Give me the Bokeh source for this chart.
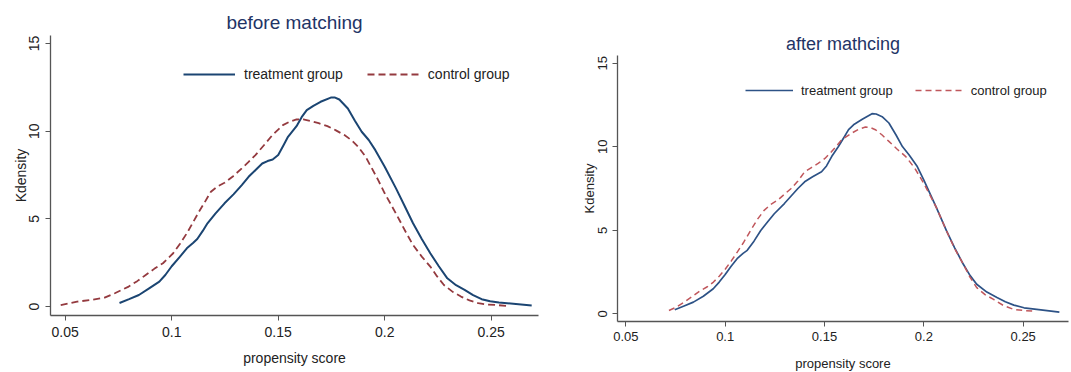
from bokeh.plotting import figure
from bokeh.layouts import row
from bokeh.models import FixedTicker, Legend, LegendItem, Range1d
from bokeh.embed import file_html
from bokeh.resources import INLINE

# ---------------- data ----------------
titles = ["before matching", "after mathcing"]
series_names = ["treatment group", "control group"]
x_label = "propensity score"
y_label = "Kdensity"
x_ticks = [0.05, 0.1, 0.15, 0.2, 0.25]
x_tick_labels = ["0.05", "0.1", "0.15", "0.2", "0.25"]
y_ticks = [0, 5, 10, 15]
y_tick_labels = ["0", "5", "10", "15"]

before_treat_x = [0.0755, 0.0800, 0.0846, 0.0894, 0.0942, 0.0970, 0.1000, 0.1039, 0.1071, 0.1100,
                  0.1120, 0.1145, 0.1168, 0.1205, 0.1248, 0.1290, 0.1329, 0.1361, 0.1395, 0.1425,
                  0.1450, 0.1474, 0.1500, 0.1525, 0.1546, 0.1586, 0.1610, 0.1634, 0.1665, 0.1699,
                  0.1747, 0.1767, 0.1787, 0.1827, 0.1860, 0.1892, 0.1925, 0.1956, 0.2000, 0.2053,
                  0.2093, 0.2133, 0.2174, 0.2214, 0.2254, 0.2294, 0.2335, 0.2375, 0.2415, 0.2455,
                  0.2495, 0.2536, 0.2616, 0.2690]
before_treat_y = [0.20, 0.42, 0.66, 1.04, 1.42, 1.80, 2.30, 2.85, 3.32, 3.62,
                  3.85, 4.30, 4.75, 5.30, 5.89, 6.40, 6.93, 7.40, 7.80, 8.16,
                  8.30, 8.39, 8.64, 9.20, 9.68, 10.29, 10.80, 11.20, 11.45, 11.68,
                  11.92, 11.92, 11.81, 11.30, 10.60, 9.97, 9.50, 8.92, 7.97, 6.74,
                  5.75, 4.75, 3.85, 3.04, 2.30, 1.61, 1.22, 0.95, 0.65, 0.42,
                  0.30, 0.23, 0.15, 0.06]

before_ctrl_x = [0.0479, 0.0556, 0.0621, 0.0685, 0.0733, 0.0798, 0.0838, 0.0878, 0.0918, 0.0959,
                 0.1007, 0.1040, 0.1071, 0.1100, 0.1128, 0.1155, 0.1184, 0.1215, 0.1248, 0.1290,
                 0.1329, 0.1361, 0.1393, 0.1433, 0.1473, 0.1522, 0.1555, 0.1586, 0.1618, 0.1650,
                 0.1690, 0.1731, 0.1771, 0.1811, 0.1845, 0.1876, 0.1910, 0.1940, 0.1970, 0.2000,
                 0.2035, 0.2069, 0.2101, 0.2133, 0.2174, 0.2214, 0.2246, 0.2278, 0.2318, 0.2358,
                 0.2398, 0.2439, 0.2479, 0.2519, 0.2584]
before_ctrl_y = [0.08, 0.28, 0.38, 0.51, 0.76, 1.14, 1.45, 1.80, 2.15, 2.47,
                 3.04, 3.60, 4.18, 4.80, 5.41, 5.95, 6.55, 6.85, 7.06, 7.45,
                 7.88, 8.25, 8.64, 9.20, 9.78, 10.35, 10.55, 10.67, 10.68, 10.59,
                 10.46, 10.29, 10.05, 9.78, 9.48, 9.11, 8.55, 7.88, 7.20, 6.46,
                 5.70, 4.94, 4.20, 3.51, 2.85, 2.28, 1.72, 1.23, 0.85, 0.57,
                 0.35, 0.19, 0.12, 0.09, 0.03]

after_treat_x = [0.0746, 0.0790, 0.0840, 0.0890, 0.0940, 0.0970, 0.1000, 0.1030, 0.1060, 0.1090,
                 0.1111, 0.1145, 0.1179, 0.1213, 0.1247, 0.1298, 0.1332, 0.1366, 0.1400, 0.1440,
                 0.1485, 0.1510, 0.1536, 0.1570, 0.1600, 0.1621, 0.1650, 0.1690, 0.1739, 0.1760,
                 0.1790, 0.1824, 0.1860, 0.1892, 0.1926, 0.1965, 0.2000, 0.2062, 0.2113, 0.2155,
                 0.2198, 0.2232, 0.2266, 0.2317, 0.2368, 0.2410, 0.2453, 0.2504, 0.2589, 0.2682]
after_treat_y = [0.24, 0.45, 0.70, 1.05, 1.50, 1.90, 2.35, 2.85, 3.30, 3.62,
                 3.80, 4.35, 4.99, 5.50, 5.99, 6.60, 7.05, 7.50, 7.90, 8.20,
                 8.50, 8.85, 9.41, 10.01, 10.60, 11.02, 11.35, 11.65, 11.98, 11.96,
                 11.80, 11.42, 10.70, 10.01, 9.51, 8.85, 8.00, 6.39, 4.99, 3.95,
                 2.98, 2.30, 1.77, 1.30, 0.97, 0.72, 0.52, 0.36, 0.24, 0.10]

after_ctrl_x = [0.0717, 0.0750, 0.0789, 0.0830, 0.0873, 0.0910, 0.0941, 0.0970, 0.1000, 0.1030,
                0.1060, 0.1094, 0.1128, 0.1162, 0.1196, 0.1230, 0.1264, 0.1298, 0.1332, 0.1366,
                0.1400, 0.1434, 0.1468, 0.1502, 0.1536, 0.1587, 0.1638, 0.1672, 0.1706, 0.1730,
                0.1756, 0.1790, 0.1824, 0.1866, 0.1909, 0.1955, 0.2000, 0.2062, 0.2113, 0.2155,
                0.2198, 0.2232, 0.2266, 0.2308, 0.2351, 0.2400, 0.2453, 0.2500, 0.2555]
after_ctrl_y = [0.20, 0.38, 0.66, 1.00, 1.37, 1.62, 1.90, 2.25, 2.67, 3.15,
                3.68, 4.30, 4.99, 5.65, 6.19, 6.55, 6.80, 7.15, 7.50, 7.95,
                8.50, 8.75, 9.00, 9.30, 9.71, 10.42, 10.82, 11.05, 11.18, 11.15,
                11.02, 10.70, 10.32, 9.85, 9.41, 8.70, 7.80, 6.39, 4.99, 3.90,
                2.98, 2.20, 1.57, 1.15, 0.86, 0.50, 0.26, 0.20, 0.16]

FONT = "Liberation Sans"


def make_panel(title, frame, borders, xr, yr, tx, ty, cx, cy,
               colors, widths, dash, fs, title_fs, legend_xy, legend_cfg, std):
    fw, fh = frame
    bl, br, bt, bb = borders
    p = figure(frame_width=fw, frame_height=fh, output_backend="svg", toolbar_location=None,
               x_range=Range1d(*xr), y_range=Range1d(*yr),
               min_border_left=bl, min_border_right=br, min_border_top=bt, min_border_bottom=bb)
    p.frame_align = False
    p.title.text = title
    p.title.align = "center"
    p.title.text_font = FONT
    p.title.text_font_size = title_fs
    p.title.text_font_style = "normal"
    p.title.text_color = "#1f3466"
    p.title.standoff = std["title"]
    p.outline_line_color = None
    p.xgrid.grid_line_color = None
    p.ygrid.grid_line_color = None
    p.background_fill_color = "white"
    p.border_fill_color = "white"

    r1 = p.line(tx, ty, line_color=colors[0], line_width=widths[0], line_join="round")
    r2 = p.line(cx, cy, line_color=colors[1], line_width=widths[1], line_dash=dash,
                line_join="round")

    for ax in (p.xaxis[0], p.yaxis[0]):
        ax.axis_line_color = "#555555"
        ax.axis_line_width = 1.3
        ax.major_tick_line_color = "#555555"
        ax.major_tick_out = 5
        ax.major_tick_in = 0
        ax.minor_tick_line_color = None
        ax.major_label_text_font = FONT
        ax.major_label_text_font_size = fs
        ax.major_label_text_color = "#222222"
        ax.axis_label_text_font = FONT
        ax.axis_label_text_font_size = fs
        ax.axis_label_text_font_style = "normal"
        ax.axis_label_text_color = "#222222"

    p.xaxis.ticker = FixedTicker(ticks=x_ticks)
    p.xaxis.major_label_overrides = {t: l for t, l in zip(x_ticks, x_tick_labels)}
    p.yaxis.ticker = FixedTicker(ticks=y_ticks)
    p.yaxis.major_label_overrides = {t: l for t, l in zip(y_ticks, y_tick_labels)}
    p.yaxis.major_label_orientation = "vertical"
    p.xaxis.axis_label = x_label
    p.yaxis.axis_label = y_label
    p.xaxis.major_label_standoff = std["xl"]
    p.xaxis.axis_label_standoff = std["xa"]
    p.yaxis.major_label_standoff = std["yl"]
    p.yaxis.axis_label_standoff = std["ya"]

    legend = Legend(items=[LegendItem(label=series_names[0], renderers=[r1]),
                           LegendItem(label=series_names[1], renderers=[r2])],
                    orientation="horizontal", location=legend_xy,
                    padding=0, margin=0, border_line_alpha=0, background_fill_alpha=0,
                    glyph_width=legend_cfg["gw"], glyph_height=16, label_height=16,
                    label_standoff=legend_cfg["ls"], spacing=legend_cfg["sp"],
                    label_text_font=FONT, label_text_font_size=fs, label_text_color="#222222")
    p.add_layout(legend, "center")
    return p


# left: frame 50..538 x 35..315 ; figure 0..575 x 0..372
p1 = make_panel(titles[0], (488, 280), (50, 37, 35, 57),
                (0.0431, 0.2722), (-0.51, 15.46),
                before_treat_x, before_treat_y, before_ctrl_x, before_ctrl_y,
                ("#1b4572", "#943a3f"), (2.0, 1.8), "7 4", "14px", "19px",
                (133, 233), {"gw": 52, "ls": 9, "sp": 24},
                {"title": 6, "xl": 6, "xa": 10, "yl": 6, "ya": -2})

# right: frame 617..1068 x 55..321 ; figure 575..1071 x 0..372
p2 = make_panel(titles[1], (451, 266), (42, 3, 55, 51),
                (0.0458, 0.2728), (-0.46, 15.46),
                after_treat_x, after_treat_y, after_ctrl_x, after_ctrl_y,
                ("#2d5286", "#c0575c"), (1.7, 1.5), "6 4", "13px", "18px",
                (128, 223), {"gw": 48, "ls": 8, "sp": 22},
                {"title": 3, "xl": 5, "xa": 12, "yl": 5, "ya": -1})

layout = row(p1, p2)
open("out.html", "w").write(file_html(layout, INLINE))
